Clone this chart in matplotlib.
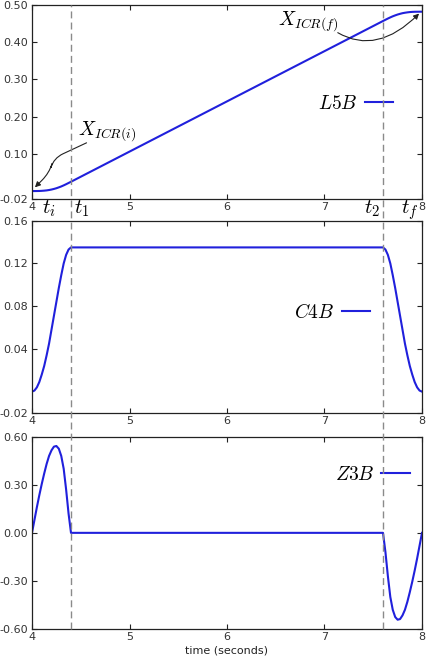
import matplotlib
matplotlib.use("Agg")
import matplotlib.pyplot as plt
from matplotlib.lines import Line2D
from matplotlib.transforms import blended_transform_factory

plt.rcParams['mathtext.fontset'] = 'cm'
plt.rcParams['font.family'] = ['DejaVu Sans']

# ---------------- data ----------------
T1 = 4.4
T2 = 7.6

T_ACC = [4.000, 4.025, 4.050, 4.075, 4.100, 4.125, 4.150, 4.175, 4.200,
         4.225, 4.250, 4.275, 4.300, 4.325, 4.350, 4.375, 4.400]
T_DEC = [7.600, 7.625, 7.650, 7.675, 7.700, 7.725, 7.750, 7.775, 7.800,
         7.825, 7.850, 7.875, 7.900, 7.925, 7.950, 7.975, 8.000]

POS_UP = [0.0000, 0.0000, 0.0001, 0.0002, 0.0006, 0.0011, 0.0018, 0.0028, 0.0041,
          0.0057, 0.0076, 0.0099, 0.0124, 0.0153, 0.0184, 0.0217, 0.0250]
POS_DOWN = [0.4570, 0.4603, 0.4636, 0.4667, 0.4696, 0.4721, 0.4744, 0.4763, 0.4780,
            0.4792, 0.4802, 0.4810, 0.4815, 0.4818, 0.4819, 0.4820, 0.4820]

VEL_UP = [0.000, 0.001, 0.004, 0.009, 0.016, 0.024, 0.034, 0.045, 0.058,
          0.071, 0.084, 0.097, 0.109, 0.120, 0.128, 0.133, 0.135]
VEL_DOWN = [0.135, 0.133, 0.128, 0.120, 0.109, 0.097, 0.084, 0.071, 0.058,
            0.045, 0.034, 0.024, 0.016, 0.009, 0.004, 0.001, 0.000]

ACC_UP = [0.00, 0.08, 0.16, 0.235, 0.305, 0.37, 0.43, 0.48, 0.515,
          0.538, 0.542, 0.525, 0.48, 0.40, 0.27, 0.12, 0.00]
ACC_DOWN = [0.00, -0.12, -0.27, -0.40, -0.48, -0.525, -0.542, -0.538, -0.515,
            -0.48, -0.43, -0.37, -0.305, -0.235, -0.16, -0.08, 0.00]

SERIES_LABELS = ['$L5B$', '$C4B$', '$Z3B$']
X_TICKS = [4, 5, 6, 7, 8]
X_TICKLABELS = ['4', '5', '6', '7', '8']
Y_TICKS = [[-0.02, 0.10, 0.20, 0.30, 0.40, 0.50],
           [-0.02, 0.04, 0.08, 0.12, 0.16],
           [-0.60, -0.30, 0.00, 0.30, 0.60]]
Y_TICKLABELS = [['-0.02', '0.10', '0.20', '0.30', '0.40', '0.50'],
                ['-0.02', '0.04', '0.08', '0.12', '0.16'],
                ['-0.60', '-0.30', '0.00', '0.30', '0.60']]
Y_LIMS = [(-0.02, 0.50), (-0.02, 0.16), (-0.60, 0.60)]

time = T_ACC + T_DEC
series = [POS_UP + POS_DOWN, VEL_UP + VEL_DOWN, ACC_UP + ACC_DOWN]

# ---------------- figure ----------------
W, H = 431, 663
fig = plt.figure(figsize=(W / 100, H / 100), dpi=100)

left = 32 / W
width = (422 - 32) / W
tops = [5, 220.7, 436.7]
bots = [198.5, 413, 629]
axes = []
for tp, bt in zip(tops, bots):
    ax = fig.add_axes([left, 1 - bt / H, width, (bt - tp) / H])
    axes.append(ax)

BLUE = '#2020dc'
legend_anchor = [(0.925, 0.492), (0.866, 0.524), (0.968, 0.806)]

for i, ax in enumerate(axes):
    ax.plot(time, series[i], color=BLUE, lw=1.5, label=SERIES_LABELS[i])
    ax.set_xlim(4, 8)
    ax.set_ylim(*Y_LIMS[i])
    ax.set_xticks(X_TICKS)
    ax.set_xticklabels(X_TICKLABELS)
    ax.set_yticks(Y_TICKS[i])
    ax.set_yticklabels(Y_TICKLABELS[i])
    ax.tick_params(direction='in', top=True, right=True, length=3.5, width=0.8,
                   labelsize=8, labelcolor='#333333', color='#222222')
    ax.tick_params(axis='x', pad=2.5)
    ax.tick_params(axis='y', pad=3)
    for sp in ax.spines.values():
        sp.set_linewidth(0.9)
        sp.set_color('#222222')
    ax.legend(loc='center right', bbox_to_anchor=legend_anchor[i], frameon=False,
              markerfirst=False, fontsize=14, handlelength=1.45, handletextpad=0.35,
              borderpad=0, borderaxespad=0)

axes[2].set_xlabel('time (seconds)', fontsize=8, labelpad=2, color='#222222')

# dashed vertical lines spanning all panels
trans = blended_transform_factory(axes[0].transData, fig.transFigure)
y_lo = 1 - bots[2] / H
y_hi = 1 - tops[0] / H
for tv in (T1, T2):
    fig.add_artist(Line2D([tv, tv], [y_lo, y_hi], transform=trans, color='#8a8a8a',
                          lw=1.0, ls=(0, (5, 3))))

# t labels under top panel
ax0 = axes[0]
tl_kw = dict(transform=blended_transform_factory(ax0.transData, ax0.transAxes),
             fontsize=15, va='baseline')
ax0.text(4.10, -0.078, '$t_i$', ha='left', **tl_kw)
ax0.text(4.43, -0.078, '$t_1$', ha='left', **tl_kw)
ax0.text(7.57, -0.078, '$t_2$', ha='right', **tl_kw)
ax0.text(7.785, -0.078, '$t_f$', ha='left', **tl_kw)

# annotations
ax0.annotate('$X_{ICR(i)}$', xy=(4.03, 0.010), xytext=(4.47, 0.153),
             fontsize=14, ha='left', va='baseline',
             arrowprops=dict(arrowstyle='-|>', color='#222222', lw=0.8,
                             mutation_scale=8, patchA=None, shrinkA=0, shrinkB=0,
                             relpos=(0.15, 0.0),
                             connectionstyle='arc,angleA=205,armA=36,angleB=45,armB=20,rad=10'))
ax0.annotate('$X_{ICR(f)}$', xy=(7.97, 0.477), xytext=(6.52, 0.449),
             fontsize=14, ha='left', va='baseline',
             arrowprops=dict(arrowstyle='-|>', color='#222222', lw=0.8,
                             mutation_scale=8, patchA=None, shrinkA=0, shrinkB=0,
                             relpos=(1.0, 0.0),
                             connectionstyle='angle3,angleA=-30,angleB=45'))

fig.savefig('out.png', dpi=100)
